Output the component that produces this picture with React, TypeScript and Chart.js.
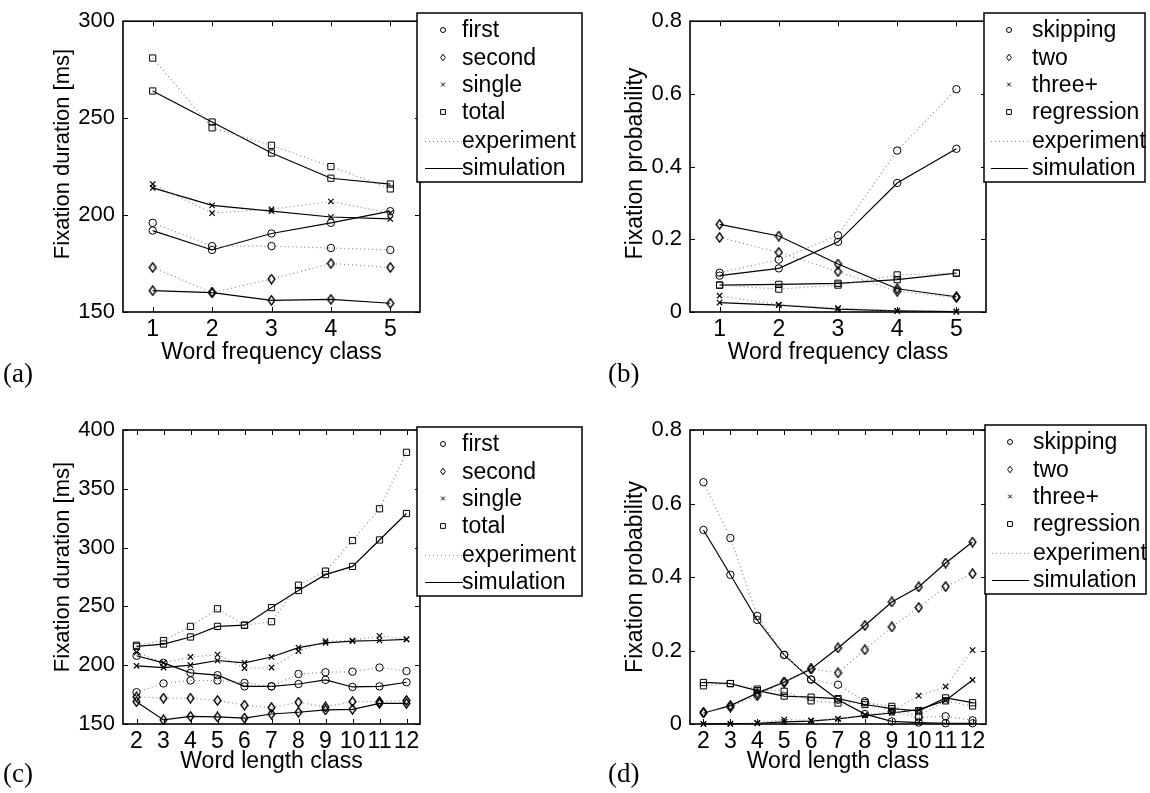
import React, { useEffect, useRef } from "react";
import { Chart, registerables } from "chart.js";

Chart.register(...registerables);

const W = 1150;
const H = 793;
const SANS = "'Liberation Sans', Arial, Helvetica, sans-serif";
const SERIF = "'Liberation Serif', 'Times New Roman', serif";

// ---------- categories / ticks ----------
const freqClasses = [1, 2, 3, 4, 5];
const lengthClasses = [2, 3, 4, 5, 6, 7, 8, 9, 10, 11, 12];
const durTicksA = [150, 200, 250, 300];
const durTicksC = [150, 200, 250, 300, 350, 400];
const probTicks = [0, 0.2, 0.4, 0.6, 0.8];
const probTickLabels = ["0", "0.2", "0.4", "0.6", "0.8"];

const durNames = ["first", "second", "single", "total"];
const probNames = ["skipping", "two", "three+", "regression"];

// ---------- (a) durations by word frequency class ----------
const aFirstExp = [196, 184, 184, 183, 182];
const aFirstSim = [192, 182, 190.5, 196, 202];
const aSecondExp = [173, 160, 167, 175, 173];
const aSecondSim = [161, 160, 156, 156.5, 154.5];
const aSingleExp = [216, 201, 203, 207, 201];
const aSingleSim = [214, 205, 202, 199, 198];
const aTotalExp = [281, 245, 236, 225, 213.5];
const aTotalSim = [264, 248, 232, 219, 216];

// ---------- (b) probabilities by word frequency class ----------
const bSkipExp = [0.108, 0.144, 0.211, 0.444, 0.613];
const bSkipSim = [0.1, 0.12, 0.193, 0.355, 0.449];
const bTwoExp = [0.205, 0.164, 0.111, 0.057, 0.04];
const bTwoSim = [0.241, 0.209, 0.132, 0.064, 0.042];
const bThreeExp = [0.045, 0.02, 0.011, 0.003, 0.001];
const bThreeSim = [0.026, 0.019, 0.008, 0.003, 0.001];
const bRegExp = [0.074, 0.063, 0.074, 0.102, 0.107];
const bRegSim = [0.074, 0.076, 0.079, 0.089, 0.107];

// ---------- (c) durations by word length class ----------
const cFirstExp = [177, 184.5, 187, 187, 185, 182, 192.5, 194, 194.5, 198, 195];
const cFirstSim = [208, 202, 193.5, 191.5, 182, 182, 184, 187.5, 181.5, 182, 185.5];
const cSecondExp = [173, 172, 172, 170, 166, 164, 168.5, 164.5, 169, 169, 170];
const cSecondSim = [169, 153.5, 156.5, 156, 155, 158.5, 160, 162, 162.5, 167.5, 167.5];
const cSingleExp = [211, 202, 207, 209, 197.5, 198, 212, 220.5, 221, 225, 222];
const cSingleSim = [199.5, 198, 200, 204, 202, 207, 215, 219, 220.5, 221, 222];
const cTotalExp = [217, 221, 233, 248, 234, 237, 268, 280, 306, 333, 381];
const cTotalSim = [216, 218, 224, 233, 234, 249, 263.5, 277, 284, 306.5, 329];

// ---------- (d) probabilities by word length class ----------
const dSkipExp = [0.658, 0.506, 0.294, 0.188, 0.121, 0.107, 0.062, 0.034, 0.018, 0.021, 0.01];
const dSkipSim = [0.528, 0.406, 0.283, 0.188, 0.121, 0.066, 0.027, 0.007, 0.004, 0.002, 0.002];
const dTwoExp = [0.032, 0.046, 0.077, 0.114, 0.15, 0.139, 0.202, 0.264, 0.317, 0.374, 0.409];
const dTwoSim = [0.03, 0.05, 0.084, 0.114, 0.15, 0.207, 0.268, 0.332, 0.373, 0.438, 0.495];
const dThreeExp = [0, 0, 0.003, 0.012, 0.01, 0.014, 0.025, 0.034, 0.077, 0.102, 0.201];
const dThreeSim = [0, 0.001, 0.002, 0.006, 0.008, 0.014, 0.023, 0.03, 0.039, 0.064, 0.12];
const dRegExp = [0.104, 0.11, 0.095, 0.089, 0.063, 0.057, 0.058, 0.048, 0.022, 0.063, 0.049];
const dRegSim = [0.113, 0.11, 0.091, 0.076, 0.073, 0.069, 0.053, 0.042, 0.036, 0.071, 0.058];

type Box = { left: number; top: number; right: number; bottom: number };
type Panel = {
  id: string;
  xs: number[];
  xMin: number;
  xMax: number;
  yMin: number;
  yMax: number;
  yTicks: number[];
  yLabels: string[];
  area: Box;
  names: string[];
  series: [number[], number[]][];
  xTitle: string;
  xTitleY: number;
  yTitle: string;
  yTitleX: number;
  yTitleY: number;
  yTitleSize: number;
  label: string;
  labelX: number;
  labelY: number;
  legend: { left: number; top: number; right: number; markerDx: number; textDx: number; line0: number; line1: number };
};

const Y_AXIS_W = 60;
const X_AXIS_H = 40;

const PANELS: Panel[] = [
  {
    id: "a",
    xs: freqClasses,
    xMin: 0.5,
    xMax: 5.5,
    yMin: 150,
    yMax: 300,
    yTicks: durTicksA,
    yLabels: durTicksA.map(String),
    area: { left: 123, top: 15, right: 420, bottom: 312 },
    names: durNames,
    series: [
      [aFirstExp, aFirstSim],
      [aSecondExp, aSecondSim],
      [aSingleExp, aSingleSim],
      [aTotalExp, aTotalSim],
    ],
    xTitle: "Word frequency class",
    xTitleY: 359,
    yTitle: "Fixation duration [ms]",
    yTitleX: 63,
    yTitleY: 154,
    yTitleSize: 22,
    label: "(a)",
    labelX: 3,
    labelY: 382,
    legend: { left: 417, top: 13, right: 582, markerDx: 26, textDx: 45, line0: 8, line1: 46 },
  },
  {
    id: "b",
    xs: freqClasses,
    xMin: 0.5,
    xMax: 5.5,
    yMin: 0,
    yMax: 0.8,
    yTicks: probTicks,
    yLabels: probTickLabels,
    area: { left: 690, top: 15, right: 986, bottom: 312 },
    names: probNames,
    series: [
      [bSkipExp, bSkipSim],
      [bTwoExp, bTwoSim],
      [bThreeExp, bThreeSim],
      [bRegExp, bRegSim],
    ],
    xTitle: "Word frequency class",
    xTitleY: 359,
    yTitle: "Fixation probability",
    yTitleX: 635.5,
    yTitleY: 163.5,
    yTitleSize: 23,
    label: "(b)",
    labelX: 608,
    labelY: 382,
    legend: { left: 984, top: 13, right: 1145, markerDx: 25, textDx: 48, line0: 7, line1: 44 },
  },
  {
    id: "c",
    xs: lengthClasses,
    xMin: 1.5,
    xMax: 12.5,
    yMin: 150,
    yMax: 400,
    yTicks: durTicksC,
    yLabels: durTicksC.map(String),
    area: { left: 123, top: 430, right: 420, bottom: 724 },
    names: durNames,
    series: [
      [cFirstExp, cFirstSim],
      [cSecondExp, cSecondSim],
      [cSingleExp, cSingleSim],
      [cTotalExp, cTotalSim],
    ],
    xTitle: "Word length class",
    xTitleY: 768,
    yTitle: "Fixation duration [ms]",
    yTitleX: 63,
    yTitleY: 567,
    yTitleSize: 22,
    label: "(c)",
    labelX: 3,
    labelY: 782,
    legend: { left: 417, top: 427, right: 582, markerDx: 26, textDx: 45, line0: 8, line1: 46 },
  },
  {
    id: "d",
    xs: lengthClasses,
    xMin: 1.5,
    xMax: 12.5,
    yMin: 0,
    yMax: 0.8,
    yTicks: probTicks,
    yLabels: probTickLabels,
    area: { left: 690, top: 430, right: 986, bottom: 724 },
    names: probNames,
    series: [
      [dSkipExp, dSkipSim],
      [dTwoExp, dTwoSim],
      [dThreeExp, dThreeSim],
      [dRegExp, dRegSim],
    ],
    xTitle: "Word length class",
    xTitleY: 768,
    yTitle: "Fixation probability",
    yTitleX: 635.5,
    yTitleY: 577,
    yTitleSize: 23,
    label: "(d)",
    labelX: 608,
    labelY: 782,
    legend: { left: 985, top: 425, right: 1146, markerDx: 25, textDx: 48, line0: 7, line1: 44 },
  },
];

const LEGEND_ROWS = [17, 44.5, 71.5, 99, 127.5, 154.5];
const LEGEND_H = 169;
const MARK = "#000";
const EXP_LINE = "#8a8a8a";

function makeDiamond(): HTMLCanvasElement {
  const c = document.createElement("canvas");
  c.width = 9;
  c.height = 11;
  const g = c.getContext("2d")!;
  g.strokeStyle = MARK;
  g.lineWidth = 1.4;
  g.beginPath();
  g.moveTo(4.5, 0.9);
  g.lineTo(7.9, 5.5);
  g.lineTo(4.5, 10.1);
  g.lineTo(1.1, 5.5);
  g.closePath();
  g.stroke();
  return c;
}

function drawLegendMarker(ctx: CanvasRenderingContext2D, kind: number, x: number, y: number) {
  ctx.save();
  ctx.strokeStyle = MARK;
  ctx.lineWidth = 1;
  ctx.setLineDash([]);
  ctx.beginPath();
  if (kind === 0) {
    ctx.arc(x, y, 2.5, 0, Math.PI * 2);
  } else if (kind === 1) {
    ctx.moveTo(x, y - 3.3);
    ctx.lineTo(x + 2.4, y);
    ctx.lineTo(x, y + 3.3);
    ctx.lineTo(x - 2.4, y);
    ctx.closePath();
  } else if (kind === 2) {
    ctx.moveTo(x - 1.9, y - 1.9);
    ctx.lineTo(x + 1.9, y + 1.9);
    ctx.moveTo(x + 1.9, y - 1.9);
    ctx.lineTo(x - 1.9, y + 1.9);
  } else {
    ctx.rect(x - 2.4, y - 2.4, 4.8, 4.8);
  }
  ctx.stroke();
  ctx.restore();
}

function decorPlugin(p: Panel) {
  return {
    id: "decor_" + p.id,
    afterDraw(chart: any) {
      const ctx: CanvasRenderingContext2D = chart.ctx;
      const a = chart.chartArea;
      const xs = chart.scales.x;
      const ys = chart.scales.y;
      ctx.save();
      // inward tick marks
      ctx.strokeStyle = "#000";
      ctx.lineWidth = 1;
      ctx.beginPath();
      for (const v of p.xs) {
        const px = Math.round(xs.getPixelForValue(v)) + 0.5;
        ctx.moveTo(px, a.bottom);
        ctx.lineTo(px, a.bottom - 5);
        ctx.moveTo(px, a.top);
        ctx.lineTo(px, a.top + 5);
      }
      for (const v of p.yTicks) {
        const py = Math.round(ys.getPixelForValue(v)) + 0.5;
        ctx.moveTo(a.left, py);
        ctx.lineTo(a.left + 5, py);
        ctx.moveTo(a.right, py);
        ctx.lineTo(a.right - 5, py);
      }
      ctx.stroke();
      // axes box
      ctx.lineWidth = 1.6;
      ctx.strokeRect(a.left, a.top, a.right - a.left, a.bottom - a.top);

      // axis titles
      ctx.fillStyle = "#000";
      ctx.font = `23px ${SANS}`;
      ctx.textAlign = "center";
      ctx.textBaseline = "alphabetic";
      ctx.fillText(p.xTitle, (a.left + a.right) / 2, p.xTitleY);

      ctx.save();
      ctx.translate(p.yTitleX, p.yTitleY);
      ctx.rotate(-Math.PI / 2);
      ctx.font = `${p.yTitleSize}px ${SANS}`;
      ctx.textBaseline = "middle";
      ctx.fillText(p.yTitle, 0, 0);
      ctx.restore();

      // panel label
      ctx.font = `27px ${SERIF}`;
      ctx.textAlign = "left";
      ctx.textBaseline = "alphabetic";
      ctx.fillText(p.label, p.labelX, p.labelY);

      // legend
      const L = p.legend;
      ctx.fillStyle = "#fff";
      ctx.fillRect(L.left, L.top, L.right - L.left, LEGEND_H);
      ctx.strokeStyle = "#000";
      ctx.lineWidth = 1.5;
      ctx.strokeRect(L.left, L.top, L.right - L.left, LEGEND_H);
      ctx.font = `23px ${SANS}`;
      ctx.fillStyle = "#000";
      ctx.textBaseline = "middle";
      ctx.textAlign = "left";
      const items = [...p.names, "experiment", "simulation"];
      items.forEach((name, i) => {
        const y = L.top + LEGEND_ROWS[i];
        if (i < 4) {
          drawLegendMarker(ctx, i, L.left + L.markerDx, y);
        } else {
          ctx.save();
          ctx.beginPath();
          ctx.lineWidth = 1;
          if (i === 4) {
            ctx.strokeStyle = EXP_LINE;
            ctx.setLineDash([1, 3]);
          } else {
            ctx.strokeStyle = "#000";
            ctx.setLineDash([]);
          }
          ctx.moveTo(L.left + L.line0, Math.round(y) + 0.5);
          ctx.lineTo(L.left + L.line1, Math.round(y) + 0.5);
          ctx.stroke();
          ctx.restore();
        }
        ctx.fillStyle = "#000";
        ctx.fillText(name, L.left + L.textDx, y + 1);
      });
      ctx.restore();
    },
  };
}

function buildConfig(p: Panel, diamond: HTMLCanvasElement): any {
  const styles: any[] = ["circle", diamond, "crossRot", "rect"];
  const radii = [3.7, 5, 3.8, 4.4];
  const datasets: any[] = [];
  p.series.forEach(([exp, sim], i) => {
    datasets.push({
      label: p.names[i] + " experiment",
      data: p.xs.map((x, k) => ({ x, y: exp[k] })),
      borderColor: EXP_LINE,
      borderDash: [1, 3],
      borderWidth: 1.2,
      pointStyle: styles[i],
      pointRadius: radii[i],
      pointBorderColor: MARK,
      pointBackgroundColor: "rgba(0,0,0,0)",
      pointBorderWidth: i === 2 ? 1.2 : 1,
      tension: 0,
      fill: false,
      clip: false,
    });
    datasets.push({
      label: p.names[i] + " simulation",
      data: p.xs.map((x, k) => ({ x, y: sim[k] })),
      borderColor: "#000",
      borderWidth: 1.2,
      pointStyle: styles[i],
      pointRadius: radii[i],
      pointBorderColor: MARK,
      pointBackgroundColor: "rgba(0,0,0,0)",
      pointBorderWidth: i === 2 ? 1.2 : 1,
      tension: 0,
      fill: false,
      clip: false,
    });
  });

  const tickFont = { family: SANS, size: 23 };
  return {
    type: "line",
    data: { datasets },
    options: {
      animation: false,
      responsive: false,
      maintainAspectRatio: false,
      events: [],
      layout: {
        padding: {
          left: p.area.left - Y_AXIS_W,
          top: p.area.top,
          right: W - p.area.right,
          bottom: H - p.area.bottom - X_AXIS_H,
        },
      },
      plugins: {
        legend: { display: false },
        tooltip: { enabled: false },
        title: { display: false },
      },
      scales: {
        x: {
          type: "linear",
          min: p.xMin,
          max: p.xMax,
          grid: { display: false, drawTicks: false },
          border: { display: false },
          ticks: {
            autoSkip: false,
            maxRotation: 0,
            minRotation: 0,
            padding: 4,
            color: "#000",
            font: tickFont,
            callback: (v: number) => String(v),
          },
          afterBuildTicks: (s: any) => {
            s.ticks = p.xs.map((v) => ({ value: v }));
          },
          afterFit: (s: any) => {
            s.height = X_AXIS_H;
          },
        },
        y: {
          type: "linear",
          min: p.yMin,
          max: p.yMax,
          grid: { display: false, drawTicks: false },
          border: { display: false },
          ticks: {
            padding: 8,
            color: "#000",
            font: { family: SANS, size: 22 },
            callback: (v: number) => {
              const i = p.yTicks.indexOf(v);
              return i >= 0 ? p.yLabels[i] : String(v);
            },
          },
          afterBuildTicks: (s: any) => {
            s.ticks = p.yTicks.map((v) => ({ value: v }));
          },
          afterFit: (s: any) => {
            s.width = Y_AXIS_W;
          },
        },
      },
    },
    plugins: [decorPlugin(p)],
  };
}

export default function App() {
  const refs = useRef<(HTMLCanvasElement | null)[]>([]);

  useEffect(() => {
    const diamond = makeDiamond();
    const charts = PANELS.map((p, i) => new Chart(refs.current[i] as HTMLCanvasElement, buildConfig(p, diamond)));
    return () => {
      charts.forEach((c) => c.destroy());
    };
  }, []);

  return (
    <div style={{ position: "absolute", left: 0, top: 0, width: W, height: H, background: "#fff", overflow: "hidden" }}>
      {PANELS.map((p, i) => (
        <canvas
          key={p.id}
          ref={(el) => {
            refs.current[i] = el;
          }}
          width={W}
          height={H}
          style={{ position: "absolute", left: 0, top: 0, width: W, height: H }}
        />
      ))}
    </div>
  );
}
